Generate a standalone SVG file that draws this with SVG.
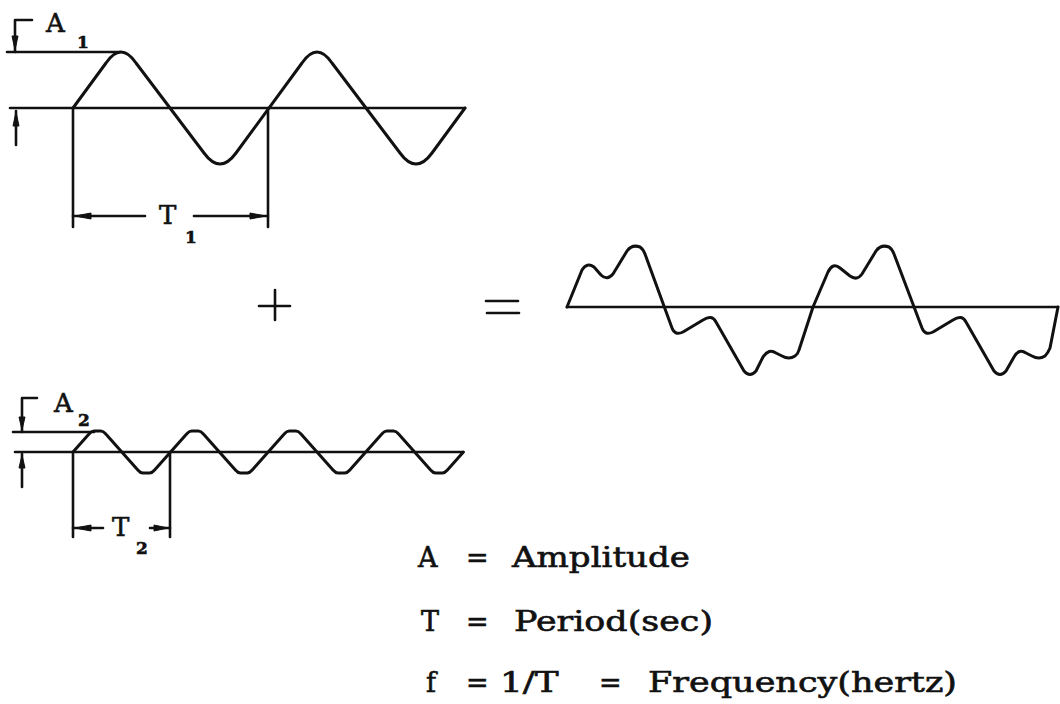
<svg xmlns="http://www.w3.org/2000/svg" width="1060" height="704" viewBox="0 0 1060 704">
<style>
.ln{stroke:#111;stroke-width:2.6;fill:none;stroke-linecap:round;stroke-linejoin:round}
.wv{stroke:#111;stroke-width:3;fill:none;stroke-linecap:round;stroke-linejoin:round}
.ah{fill:#111;stroke:#111;stroke-width:1}
.lb{font-family:"DejaVu Serif","Liberation Serif",serif;fill:#111;stroke:#111;stroke-width:0.6}
.big{font-size:27px}
.mid{font-size:26px}
.sub{font-size:17px;font-weight:bold}
</style>
<rect width="1060" height="704" fill="#fff"/>

<g id="wave1">
<line class="ln" x1="10" y1="108" x2="465" y2="108"/>
<line class="ln" x1="7" y1="52" x2="120" y2="52"/>
<path class="wv" d="M73,108 L106,63 Q121,41 136,63 L204,153 Q220,175 236,153 L302,63 Q317,41 332,63 L400,153 Q416,175 432,153 L465,108"/>
<line class="ln" x1="73" y1="108" x2="73" y2="227"/>
<line class="ln" x1="268" y1="108" x2="268" y2="227"/>
</g>

<g id="label-A1">
<polyline class="ln" points="32,20 15,20 15,52"/>
<polygon class="ah" points="15,50 12,36 18,36"/>
<line class="ln" x1="16" y1="145" x2="16" y2="111"/>
<polygon class="ah" points="16,112 13,126 19,126"/>
<text class="lb mid" x="46" y="32">A</text>
<text class="lb sub" x="77" y="48">1</text>
</g>

<g id="label-T1">
<line class="ln" x1="73" y1="216" x2="145" y2="216"/>
<line class="ln" x1="194" y1="216" x2="268" y2="216"/>
<polygon class="ah" points="75,216 91,213 91,219"/>
<polygon class="ah" points="266,216 250,213 250,219"/>
<text class="lb mid" x="159" y="224">T</text>
<text class="lb sub" x="185" y="243">1</text>
</g>

<g id="wave2">
<line class="ln" x1="15" y1="452" x2="463" y2="452"/>
<line class="ln" x1="13" y1="432" x2="94" y2="432"/>
<path class="wv" d="M73,452 L89,434 Q91.5,431 94,431 L100.8,431 Q103.3,431 105.8,434 L121.8,452 L137.8,470 Q140.3,473 142.8,473 L149.6,473 Q152.1,473 154.6,470 L170.6,452 L186.6,434 Q189.1,431 191.6,431 L198.4,431 Q200.9,431 203.4,434 L219.4,452 L235.4,470 Q237.9,473 240.4,473 L247.2,473 Q249.7,473 252.2,470 L268.2,452 L284.2,434 Q286.7,431 289.2,431 L296,431 Q298.5,431 301,434 L317,452 L333,470 Q335.5,473 338,473 L344.8,473 Q347.3,473 349.8,470 L365.8,452 L381.8,434 Q384.3,431 386.8,431 L393.6,431 Q396.1,431 398.6,434 L414.6,452 L430.6,470 Q433.1,473 435.6,473 L442.4,473 Q444.9,473 447.4,470 L463.4,452"/>
<line class="ln" x1="73" y1="452" x2="73" y2="537"/>
<line class="ln" x1="170" y1="452" x2="170" y2="537"/>
</g>

<g id="label-A2">
<polyline class="ln" points="37,398 22,398 22,432"/>
<polygon class="ah" points="22,430 19,417 25,417"/>
<line class="ln" x1="22" y1="487" x2="22" y2="454"/>
<polygon class="ah" points="22,455 19,468 25,468"/>
<text class="lb mid" x="54" y="412">A</text>
<text class="lb sub" x="78" y="426">2</text>
</g>

<g id="label-T2">
<line class="ln" x1="73" y1="528" x2="103" y2="528"/>
<line class="ln" x1="150" y1="528" x2="170" y2="528"/>
<polygon class="ah" points="75,528 91,525 91,531"/>
<polygon class="ah" points="168,528 154,525 154,531"/>
<text class="lb mid" x="112" y="536">T</text>
<text class="lb sub" x="136" y="554">2</text>
</g>

<g id="plus">
<line class="ln" x1="275" y1="290" x2="275" y2="320"/>
<line class="ln" x1="259" y1="306" x2="290" y2="306"/>
</g>

<g id="equals">
<line class="ln" x1="486" y1="301" x2="518" y2="301"/>
<line class="ln" x1="487" y1="313" x2="519" y2="313"/>
</g>

<g id="sum-wave">
<line class="ln" x1="567" y1="307" x2="1058" y2="307"/>
<path class="wv" d="M567,307 L582,270 Q587,262 594,267 L601,275 Q607,281 613,274 L627,251 Q632,244 640,247 Q643,249 645,254 L672,328 Q675,336 683,332 L703,320 Q712,314 716,322 L744,371 Q750,378 756,371 L763,357 Q769,348 776,353 L782,356 Q789,360 795,356 Q798,354 799,350 L813,307 L828,272 Q833,262 840,268 L850,276 Q857,281 862,274 L876,251 Q881,244 889,247 Q892,249 894,254 L922,328 Q925,336 933,332 L953,320 Q962,314 966,322 L994,371 Q1000,378 1006,371 L1014,357 Q1019,348 1026,353 L1032,356 Q1039,360 1045,356 Q1048,353 1050,348 L1058,307"/>
</g>

<g id="legend">
<text class="lb big" y="567"><tspan x="418">A </tspan><tspan x="466">= </tspan><tspan x="512" textLength="178" lengthAdjust="spacingAndGlyphs">Amplitude</tspan></text>
<text class="lb big" y="631"><tspan x="421">T </tspan><tspan x="466">= </tspan><tspan x="514" textLength="199" lengthAdjust="spacingAndGlyphs">Period(sec)</tspan></text>
<text class="lb big" y="692"><tspan x="426">f </tspan><tspan x="466">= </tspan><tspan x="500" textLength="70" lengthAdjust="spacingAndGlyphs">1/T </tspan><tspan x="599">= </tspan><tspan x="648" textLength="309" lengthAdjust="spacingAndGlyphs">Frequency(hertz)</tspan></text>
</g>
</svg>
